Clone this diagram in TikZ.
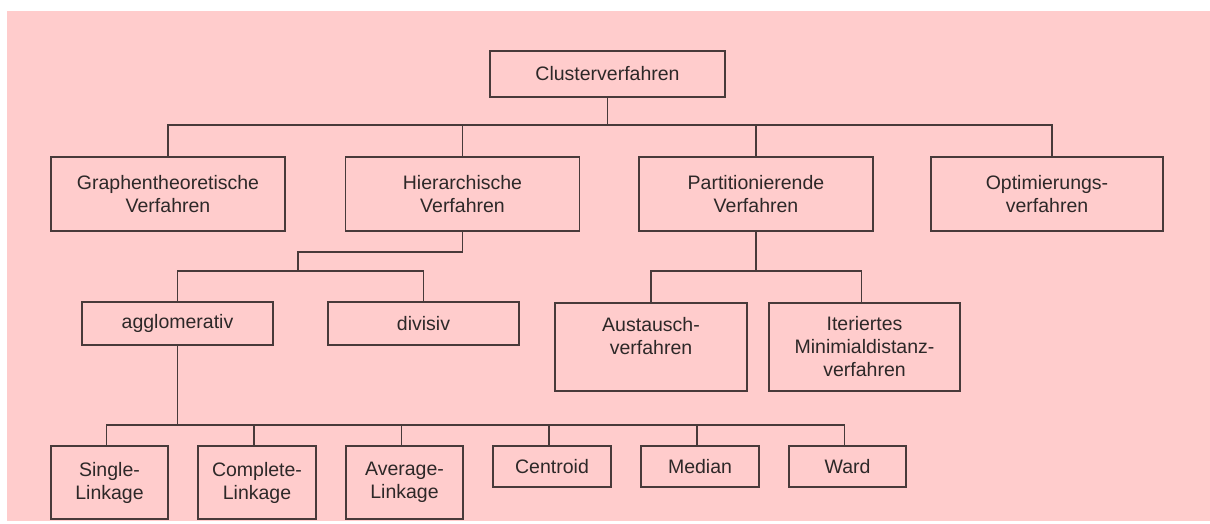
\documentclass[tikz,border=0pt]{standalone}
\usepackage{fontspec}
\setmainfont{Liberation Sans}
\usetikzlibrary{positioning}

\definecolor{bgpink}{RGB}{255,204,204}
\definecolor{lineclr}{RGB}{72,58,58}
\definecolor{txtclr}{RGB}{45,40,40}

\begin{document}
\begin{tikzpicture}[
  x=1pt,y=-1pt,
  box/.style={draw=lineclr,line width=1.1pt,fill=bgpink,align=center,inner sep=2pt,
    text=txtclr,font=\fontsize{19.5}{23}\selectfont},
  big/.style={box,minimum width=234,minimum height=74},
  mid/.style={box,minimum width=191,minimum height=43},
  tall/.style={box,minimum width=191,minimum height=88},
  leaf/.style={box,minimum width=117,minimum height=73},
  small/.style={box,minimum width=117,minimum height=41},
  conn/.style={draw=lineclr,line width=1.1pt}
]
\useasboundingbox (0,0) rectangle (1210,523);
\fill[bgpink] (7,11) rectangle (1210,521);

% top level
\node[box,minimum width=235,minimum height=46] (clus) at (607.5,74) {Clusterverfahren};

% second row
\node[big] (graph) at (168,194) {Graphentheoretische\\Verfahren};
\node[big] (hier) at (462.5,194) {Hierarchische\\Verfahren};
\node[big] (part) at (756,194) {Partitionierende\\Verfahren};
\node[big,minimum width=232] (opt) at (1047,194) {Optimierungs-\\verfahren};

% third row
\node[mid] (aggl) at (177.5,323.5) {agglomerativ};
\node[mid] (div) at (423.5,323.5) {divisiv};
\node[tall,minimum width=192] (aust) at (651,347) {Austausch-\\verfahren\\\mbox{}};
\node[tall] (iter) at (864.5,347) {Iteriertes\\Minimialdistanz-\\verfahren};

% linkage methods
\node[leaf] (single) at (109.5,482.5) {Single-\\Linkage};
\node[leaf,minimum width=118] (compl) at (257,482.5) {Complete-\\Linkage};
\node[leaf] (avg) at (404.5,482.5) {Average-\\Linkage};
\node[small,minimum width=118] (centr) at (552,466.5) {Centroid};
\node[small,minimum width=118] (median) at (700,466.5) {Median};
\node[small] (ward) at (847.5,466.5) {Ward};

% bus points
\coordinate (cbus) at (607.5,125);
\coordinate (hknee) at (298,252);
\coordinate (hbus) at (298,271);
\coordinate (pbus) at (756,271);
\coordinate (abus) at (177.5,425);

\draw[conn] (clus) -- (cbus);
\foreach \n in {graph,hier,part}
  \draw[conn] (\n.north) |- (cbus);
\draw[conn] ([xshift=5pt]opt.north) |- (cbus);

\draw[conn] (hier.south) |- (hknee) -- (hbus);
\draw[conn] (aggl.north) |- (hbus);
\draw[conn] (div.north) |- (hbus);

\draw[conn] (part) -- (pbus);
\draw[conn] (aust.north) |- (pbus);
\draw[conn] ([xshift=-3pt]iter.north) |- (pbus);

\draw[conn] (aggl) -- (abus);
\foreach \n in {single,compl,avg,centr,median,ward}
  \draw[conn] ([xshift=-3pt]\n.north) |- (abus);
\end{tikzpicture}
\end{document}
